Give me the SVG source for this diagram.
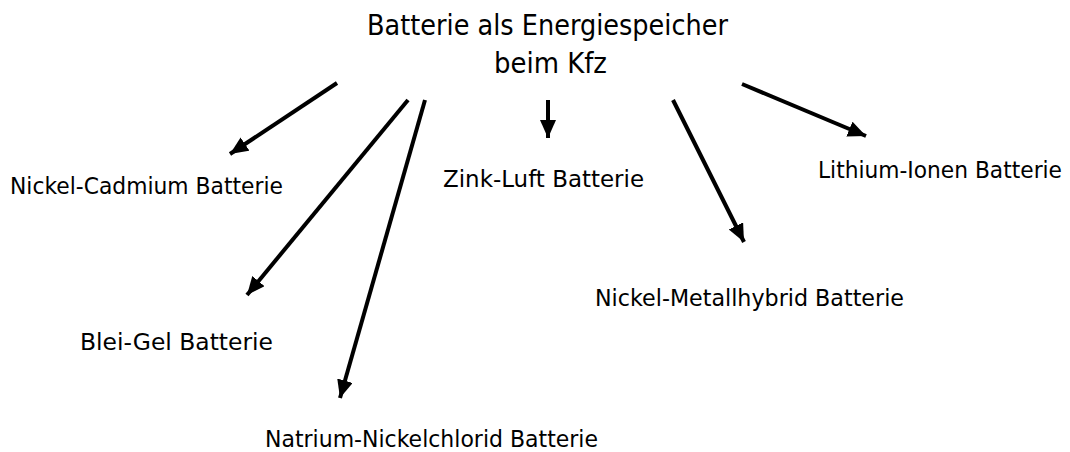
<svg xmlns="http://www.w3.org/2000/svg" width="1070" height="452" viewBox="0 0 1070 452">
<style>
text{font-family:"DejaVu Sans","Liberation Sans",sans-serif;fill:#000}
.t{font-size:29px}
.l{font-size:22.5px}
.c line{stroke:#000;stroke-width:4;marker-end:url(#ah)}
</style>
<defs>
<marker id="ah" markerUnits="userSpaceOnUse" markerWidth="20" markerHeight="18" refX="18" refY="8" orient="auto">
<path d="M0,0 L18,8 L0,16 Z" fill="#000"/>
</marker>
</defs>
<rect width="1070" height="452" fill="#fff"/>
<g id="root">
<text class="t" x="367" y="35" textLength="361" lengthAdjust="spacingAndGlyphs">Batterie als Energiespeicher</text>
<text class="t" x="494" y="73" textLength="113" lengthAdjust="spacingAndGlyphs">beim Kfz</text>
</g>
<g id="nicd"><text class="l" x="10" y="194" textLength="273" lengthAdjust="spacingAndGlyphs">Nickel-Cadmium Batterie</text></g>
<g id="zink"><text class="l" x="443" y="187" textLength="201" lengthAdjust="spacingAndGlyphs">Zink-Luft Batterie</text></g>
<g id="liion"><text class="l" x="818" y="178" textLength="244" lengthAdjust="spacingAndGlyphs">Lithium-Ionen Batterie</text></g>
<g id="nimh"><text class="l" x="595" y="306" textLength="309" lengthAdjust="spacingAndGlyphs">Nickel-Metallhybrid Batterie</text></g>
<g id="blei"><text class="l" x="80" y="350" textLength="193" lengthAdjust="spacingAndGlyphs">Blei-Gel Batterie</text></g>
<g id="natrium"><text class="l" x="265" y="447" textLength="333" lengthAdjust="spacingAndGlyphs">Natrium-Nickelchlorid Batterie</text></g>
<g id="connectors" class="c">
<line x1="337" y1="83" x2="230" y2="154"/>
<line x1="408" y1="100" x2="247" y2="295"/>
<line x1="425" y1="100" x2="340" y2="398"/>
<line x1="548" y1="100" x2="548" y2="138"/>
<line x1="673" y1="100" x2="744" y2="242"/>
<line x1="742" y1="84" x2="866" y2="136"/>
</g>
</svg>
